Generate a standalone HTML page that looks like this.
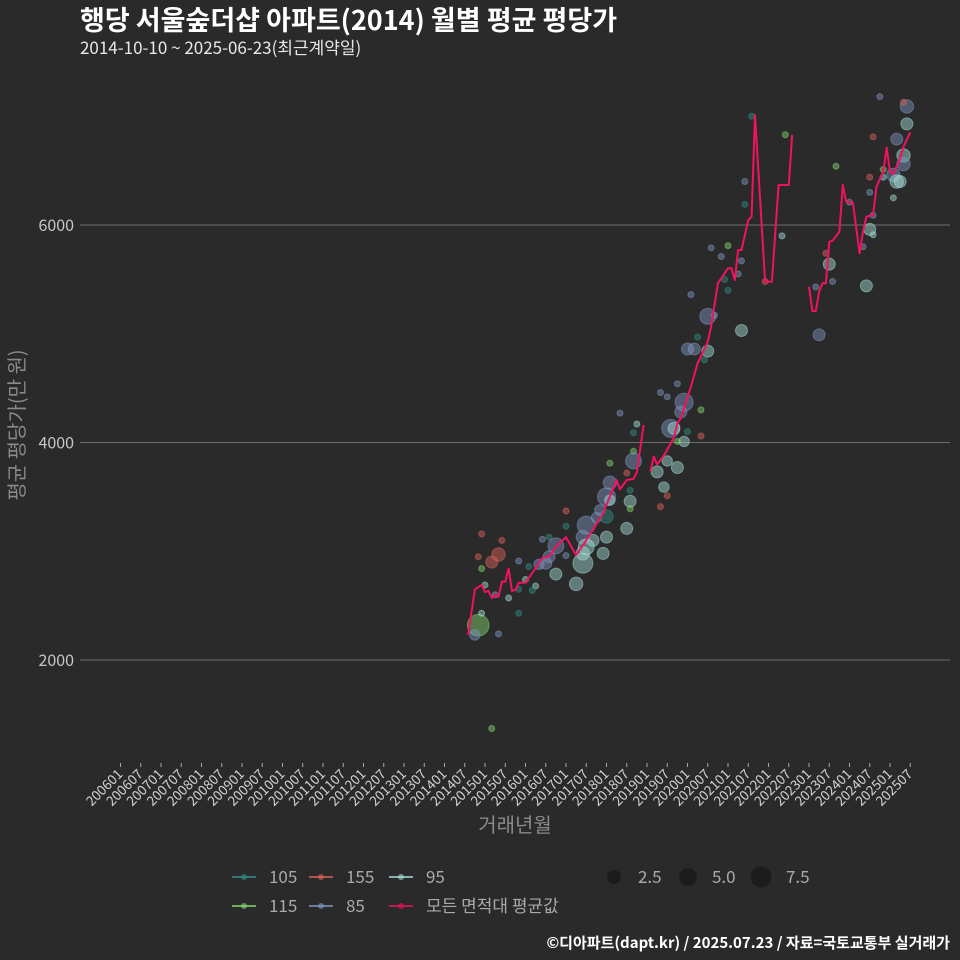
<!DOCTYPE html>
<html><head><meta charset="utf-8">
<style>
html,body{margin:0;padding:0;background:#2a2a2a;}
svg{display:block;font-family:"Noto Sans CJK KR","Liberation Sans",sans-serif;}
</style></head>
<body>
<svg id="chart" width="960" height="960" viewBox="0 0 960 960">
<rect x="0" y="0" width="960" height="960" fill="#2a2a2a"/>
<text x="80" y="30" fill="#ffffff" font-size="27" font-weight="bold">행당 서울숲더샵 아파트(2014) 월별 평균 평당가</text>
<text x="80" y="54" fill="#e8e8e8" font-size="17">2014-10-10 ~ 2025-06-23(최근계약일)</text>
<g id="grid"></g>
<g id="yticks"></g>
<g id="xticks"></g>
<g id="points"></g>
<g id="line"></g>
<text x="0" y="0" transform="translate(24 425) rotate(-90)" text-anchor="middle" fill="#8a8a8a" font-size="20">평균 평당가(만 원)</text>
<text x="515" y="832" text-anchor="middle" fill="#8a8a8a" font-size="20">거래년월</text>
<g id="legend"></g>
<text x="950" y="948" text-anchor="end" fill="#ffffff" font-size="15" font-weight="bold">©디아파트(dapt.kr) / 2025.07.23 / 자료=국토교통부 실거래가</text>
</svg>
<script>
// month index = months since 2006-01
const tickLabels = ["200601","200607","200701","200707","200801","200807","200901","200907","201001","201007","201101","201107","201201","201207","201301","201307","201401","201407","201501","201507","201601","201607","201701","201707","201801","201807","201901","201907","202001","202007","202101","202107","202201","202207","202301","202307","202401","202407","202501","202507"];
const yTicks = [2000, 4000, 6000];
const lineMonths = [103,105,107,108,109,110,111,112,113,114,115,116,117,118,120,121,123,125,127,129,132,135,138,143,147,148,150,152,153,155,null,157,158,159,161,164,165,166,169,171,174,175,177,180,181,182,183,184,186,187,188,191,193,195,198,199,null,204,205,206,207,208,209,210,211,213,214,215,217,219,220,221,223,224,226,227,228,229,231,232,234];
const lineValues = [2230,2650,2690,2625,2635,2570,2600,2580,2720,2720,2840,2635,2645,2710,2710,2755,2845,2940,2950,3040,3130,2965,3100,3350,3655,3570,3655,3665,3730,4160,null,3735,3870,3800,3880,4045,4178,4222,4513,4728,4927,5065,5464,5602,5602,5494,5770,5770,6046,6076,7011,5479,5479,6368,6368,6828,null,5433,5209,5209,5387,5464,5464,5846,5856,5938,6368,6214,6205,5740,5938,6076,6092,6352,6490,6711,6490,6469,6613,6720,6852];
const ptType = ["115","85","95","85","155","155","155","155","155","115","95","85","95","105","85","105","95","95","105","105","85","105","85","85","85","85","95","155","105","85","95","85","85","95","95","95","95","95","95","85","105","85","85","95","85","115","95","95","115","155","105","85","95","105","115","85","95","95","155","155","95","95","95","115","155","85","95","85","85","115","105","85","85","85","85","85","95","105","105","85","85","85","95","105","105","85","85","85","85","115","105","85","105","115","95","155","85","85","95","155","85","115","85","95","95","85","95","85","85","155","155","95","95","115","85","85","95","95","95","85","95","85","155","85","115"];
const ptMonth = [106,105,107,112,107,113,106,112,110,107,108,111,115,118,118,121,120,123,122,118,125,127,124,126,127,129,129,132,132,132,135,138,137,138,137,137,140,143,144,141,144,144,145,145,142,145,150,151,151,150,151,148,153,152,152,152,159,161,162,160,165,162,167,165,172,163,164,166,167,172,168,160,162,165,168,170,174,173,171,174,176,169,184,180,179,183,184,175,178,180,185,185,187,197,196,191,207,206,210,209,211,212,216,221,222,220,223,223,222,222,223,229,226,226,230,229,230,231,232,232,233,233,232,225,110];
const ptValue = [2320,2230,2430,2240,3160,3100,2950,2970,2900,2840,2690,2600,2570,2430,2910,2860,2740,2680,2640,2650,3110,3130,2880,2890,2950,3050,2790,3370,3230,2960,2700,3240,3130,3040,2890,2980,3100,2980,3130,3310,3320,3500,3630,3470,3380,3810,3210,3460,3390,3720,3560,4270,4170,4090,3920,3830,3730,3590,3510,3410,3770,3830,4010,4010,4060,4130,4130,4280,4370,4300,4100,4460,4420,4540,4860,4860,4840,4760,4970,5160,5170,5360,5030,5400,5500,5550,5670,5790,5710,5810,6190,6400,7000,6830,5900,5480,4990,5430,5640,5740,5480,6540,6210,5440,5960,5800,5910,6090,6300,6440,6810,6250,6440,6510,6790,6460,6400,6400,6640,6560,6930,7090,7130,7180,1370];
const ptCount = [13,3,1,1,1,1,1,5,4,1,1,1,1,1,1,1,1,1,1,1,1,1,3,4,4,7,4,1,1,1,5,9,5,7,11,5,4,4,4,3,5,9,5,3,3,1,4,4,1,1,1,1,1,1,1,7,4,3,1,1,4,3,3,1,1,9,4,4,9,1,1,1,1,1,4,4,4,1,1,7,1,1,4,1,1,1,1,1,1,1,1,1,1,1,1,1,4,1,4,1,1,1,1,4,4,1,1,1,1,1,1,1,1,1,4,5,5,4,5,5,4,5,1,1,1];
const sizeLegend = [2.5, 5.0, 7.5];

const NS = "http://www.w3.org/2000/svg";
const colors = {"105":"#2f8f86","155":"#e0625a","95":"#a6e0da","115":"#86d870","85":"#8197c4"};
const X0 = 80, X1 = 950;
function xScale(m){ return 485 + (m - 108) * 3.375; }
function yScale(v){ return 660 - (v - 2000) * 0.10875; }
function rScale(c){ return 3 * Math.sqrt(c); }
function mk(tag, attrs, parent){ const e = document.createElementNS(NS, tag); for (const k in attrs) e.setAttribute(k, attrs[k]); parent.appendChild(e); return e; }

const grid = document.getElementById('grid');
const yt = document.getElementById('yticks');
yTicks.forEach(v => {
  const l = mk('line', {x1:X0, x2:X1, y1:yScale(v), y2:yScale(v), stroke:'#6e6e6e', 'stroke-width':1}, grid);
  
  
  const t = mk('text', {x:74, y:yScale(v)+6, 'text-anchor':'end', fill:'#c8c8c8', 'font-size':16}, yt);
  t.textContent = v;
  
  
});

const xt = document.getElementById('xticks');
tickLabels.forEach((lab, i) => {
  const m = (parseInt(lab.slice(0,4)) - 2006) * 12 + parseInt(lab.slice(4)) - 1;
  const x = xScale(m);
  const tk = mk('line', {x1:x, x2:x, y1:763, y2:767, stroke:'#aaaaaa', 'stroke-width':1}, xt);
  
  
  const t = mk('text', {x:x+3, y:775, 'text-anchor':'end', fill:'#d0d0d0', 'font-size':13.5, transform:'rotate(-45 '+(x+3)+' 775)'}, xt);
  t.textContent = lab;
  
  
});

const pg = document.getElementById('points');
ptMonth.forEach((m, i) => {
  const c = colors[ptType[i]];
  const p = mk('circle', {cx:xScale(m), cy:yScale(ptValue[i]), r:rScale(ptCount[i]), fill:c, 'fill-opacity':0.45, stroke:c, 'stroke-opacity':0.5, 'stroke-width':1}, pg);
  
  
});

const lg = document.getElementById('line');
let seg = [];
function flush(){
  if (seg.length > 1) {
    const pl = mk('polyline', {points: seg.join(' '), fill:'none', stroke:'#f2125f', 'stroke-width':2, 'stroke-linejoin':'round'}, lg);
    
    
  }
  seg = [];
}
lineMonths.forEach((m, i) => {
  if (m === null || lineValues[i] === null) { flush(); return; }
  seg.push(xScale(m).toFixed(1) + ',' + yScale(lineValues[i]).toFixed(1));
});
flush();

const leg = document.getElementById('legend');
const entries = [["105",232,877],["155",309,877],["95",389,877],["115",232,906],["85",309,906],["모든 면적대 평균값",389,906]];
entries.forEach(e => {
  const col = colors[e[0]] || '#f2125f';
  const kl = mk('line', {x1:e[1], x2:e[1]+24, y1:e[2], y2:e[2], stroke:col, 'stroke-width':1.5}, leg);
  
  
  const kd = mk('circle', {cx:e[1]+12, cy:e[2], r:3, fill:col, 'fill-opacity':0.6}, leg);
  
  
  const t = mk('text', {x:e[1]+37, y:e[2]+6, fill:'#aaaaaa', 'font-size':17}, leg);
  t.textContent = e[0];
  
  
});
const sPos = [[614,638,7],[688,712,9],[761,786,10.5]];
sizeLegend.forEach((s, i) => {
  const c = mk('circle', {cx:sPos[i][0], cy:877, r:sPos[i][2], fill:'#1c1c1c'}, leg);
  
  
  const t = mk('text', {x:sPos[i][1], y:883, fill:'#aaaaaa', 'font-size':17}, leg);
  t.textContent = s.toFixed(1);
  
  
});
</script>
</body></html>
